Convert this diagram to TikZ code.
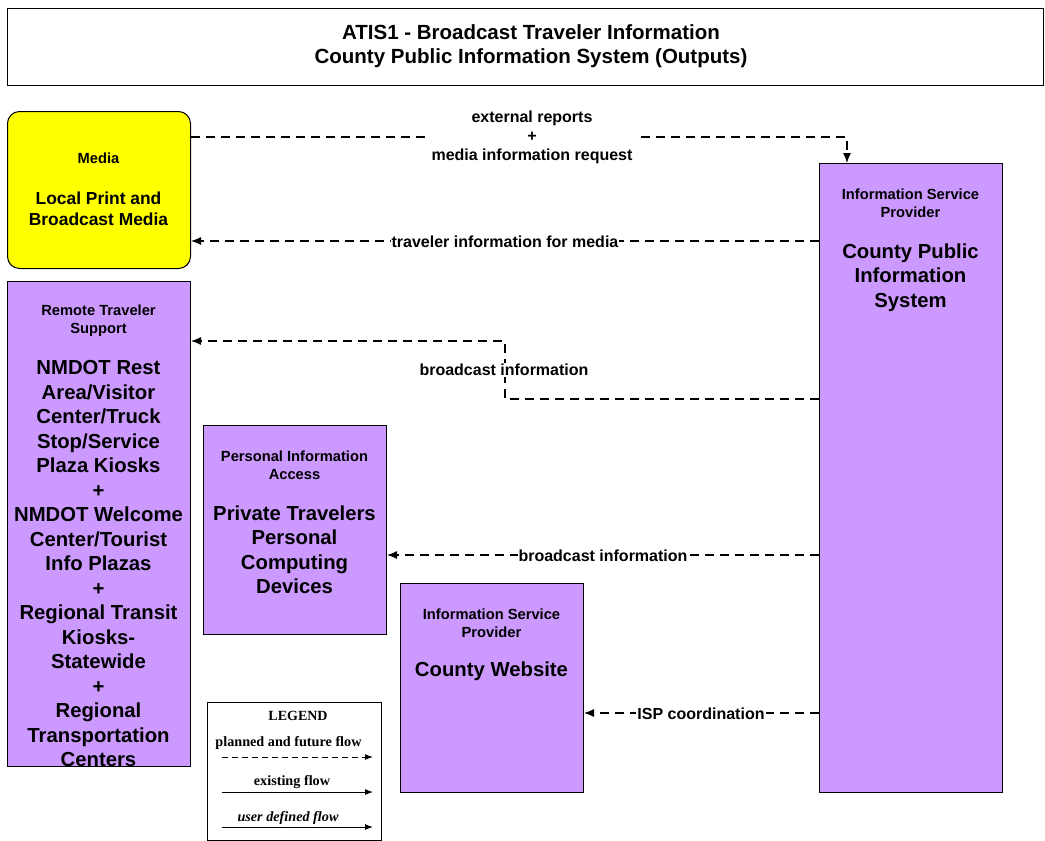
\documentclass[tikz,border=0pt]{standalone}
\usepackage{fontspec}
\setmainfont{Liberation Sans}
\newfontfamily\legfont{Liberation Serif}
\usetikzlibrary{arrows.meta}
\definecolor{lav}{HTML}{CC99FF}
\definecolor{yel}{HTML}{FFFF00}
\tikzset{
  box/.style={draw=black, line width=1pt, fill=lav, anchor=north west},
  flow/.style={draw=black, line width=1.2pt, dash pattern=on 9pt off 6pt, -{Latex[length=10pt,width=8pt]}},
  solidflow/.style={draw=black, line width=1.2pt, -{Latex[length=10pt,width=8pt]}},
  lbl/.style={fill=white, inner sep=1pt, font=\fontsize{16}{19}\selectfont\bfseries, align=center},
  small/.style={font=\fontsize{14.7}{18}\selectfont\bfseries, align=center},
  big/.style={font=\fontsize{20.3}{24.5}\selectfont\bfseries, align=center},
}
\begin{document}
\begin{tikzpicture}[x=1pt,y=-1pt]
\useasboundingbox (0,0) rectangle (1045,841);
% title
\node[draw=black, line width=1pt, minimum width=1036pt, minimum height=77pt, anchor=north west, inner sep=0pt] (title) at (7,8) {};
\node[font=\fontsize{20.5}{24}\selectfont\bfseries, align=center] (titletext) at (531,46.5) {ATIS1 - Broadcast Traveler Information\\County Public Information System (Outputs)};
% media
\node[draw=black, line width=1pt, fill=yel, rounded corners=12pt, minimum width=183pt, minimum height=157pt, anchor=north west, inner sep=0pt] (media) at (7,111) {};
\node[small] (mediat) at (98.5,158) {Media};
\node[font=\fontsize{17.4}{21}\selectfont\bfseries, align=center] (mediab) at (98.5,209) {Local Print and\\Broadcast Media};
% CPIS
\node[box, minimum width=183pt, minimum height=629pt, inner sep=0pt] (cpis) at (819,163) {};
\node[small] (cpist) at (910.5,203.5) {Information Service\\Provider};
\node[big] (cpisb) at (910.5,277.5) {County Public\\Information\\System};
% remote traveler support
\node[box, minimum width=183pt, minimum height=485pt, inner sep=0pt] (rts) at (7,281) {};
\node[small] (rtst) at (98.5,321) {Remote Traveler\\Support};
\node[big] (rtsb) at (98.5,564) {NMDOT Rest\\Area/Visitor\\Center/Truck\\Stop/Service\\Plaza Kiosks\\+\\NMDOT Welcome\\Center/Tourist\\Info Plazas\\+\\Regional Transit\\Kiosks-\\Statewide\\+\\Regional\\Transportation\\Centers};
% personal information access
\node[box, minimum width=183pt, minimum height=209pt, inner sep=0pt] (pia) at (203,425) {};
\node[small] (piat) at (294.5,465) {Personal Information\\Access};
\node[big] (piab) at (294.5,549.5) {Private Travelers\\Personal\\Computing\\Devices};
% county website
\node[box, minimum width=183pt, minimum height=209pt, inner sep=0pt] (web) at (400,583) {};
\node[small] (webt) at (491.5,623) {Information Service\\Provider};
\node[big] (webb) at (491.5,671) {County Website};
% connectors
\coordinate (m1) at (847,137);
\draw[flow] (media.east |- m1) -- (m1) -- (cpis.north -| m1);
\node[lbl, inner xsep=6pt] (l1) at (532,137) {external reports\\+\\media information request};
\draw[flow] (cpis.west |- 0,241) -- (media.east |- 0,241);
\node[lbl] (l2) at (505,242) {traveler information for media};
\coordinate (b1) at (505,399);
\coordinate (b2) at (505,341);
\draw[flow] (cpis.west |- b1) -- (b1) -- (b2) -- (rts.east |- b2);
\node[lbl] (l3) at (504,370) {broadcast information};
\draw[flow] (cpis.west |- 0,555) -- (pia.east |- 0,555);
\node[lbl] (l4) at (603,556) {broadcast information};
\draw[flow] (cpis.west |- 0,713) -- (web.east |- 0,713);
\node[lbl] (l5) at (701,714) {ISP coordination};
% legend
\node[draw=black, line width=1pt, minimum width=174pt, minimum height=138pt, anchor=north west, inner sep=0pt] (legend) at (207,702) {};
\node[font=\legfont\fontsize{14}{15}\selectfont\bfseries] (legt) at (298,716) {LEGEND};
\node[font=\legfont\fontsize{14.2}{14}\selectfont\bfseries] (leg1) at (288.5,743) {planned and future flow};
\coordinate (a1) at (222,757); \coordinate (a2) at (373,757);
\draw[flow, line width=1pt, dash pattern=on 6pt off 4pt, -{Latex[length=8pt,width=6pt]}] (a1) -- (a2);
\node[font=\legfont\fontsize{14.2}{14}\selectfont\bfseries] (leg2) at (292,782) {existing flow};
\coordinate (a3) at (222,792); \coordinate (a4) at (373,792);
\draw[solidflow, line width=1pt, -{Latex[length=8pt,width=6pt]}] (a3) -- (a4);
\node[font=\legfont\fontsize{14.2}{14}\selectfont\bfseries\itshape] (leg3) at (288,818) {user defined flow};
\coordinate (a5) at (222,827); \coordinate (a6) at (373,827);
\draw[solidflow, line width=1pt, -{Latex[length=8pt,width=6pt]}] (a5) -- (a6);
\end{tikzpicture}
\end{document}
